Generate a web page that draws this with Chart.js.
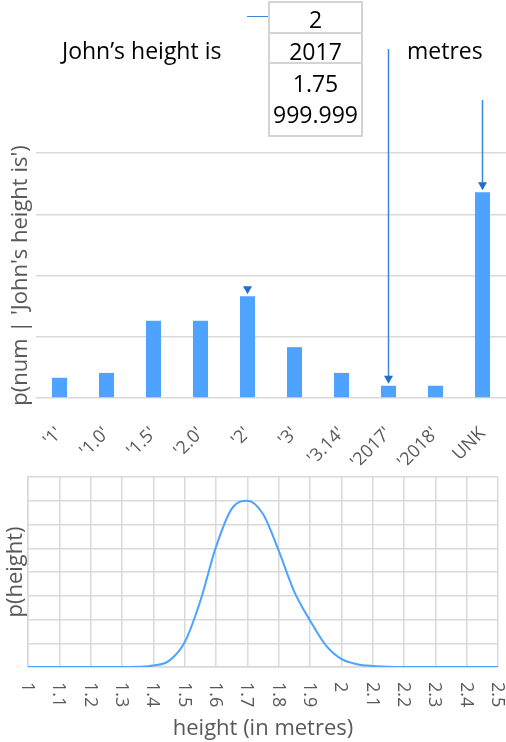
<!DOCTYPE html>
<html>
<head>
<meta charset="utf-8">
<script src="https://cdn.jsdelivr.net/npm/chart.js@4"></script>
<style>
    body { margin: 0; background: #fff; font-family: "Open Sans", sans-serif; }
    #wrap { position: relative; width: 506px; height: 742px; overflow: hidden; }
    .txt { position: absolute; color: #000; font-size: 23px; line-height: 23px; white-space: nowrap; }
    .cell { position: absolute; left: 268px; width: 95px; text-align: center; }
    .box { position: absolute; left: 268px; width: 95px; border: 2px solid #d4d4d4; box-sizing: border-box; }
    #c1 { position: absolute; left: 0; top: 0; width: 506px; height: 470px; }
    #c2 { position: absolute; left: 0; top: 470px; width: 506px; height: 272px; }
    .link { position: absolute; left: 247px; top: 16px; width: 21px; height: 0; border-top: 1.5px solid #3C87DB; }
</style>
</head>
<body>
<div id="wrap">
    <div class="box" style="top:1px; height:33px;"></div>
    <div class="box" style="top:32px; height:32px;"></div>
    <div class="box" style="top:62px; height:75px;"></div>
    <div class="link"></div>

    <div id="c1"><canvas id="numChart"></canvas></div>
    <div id="c2"><canvas id="heightChart"></canvas></div>

    <div class="txt" style="left:62px; top:39px;">John’s height is</div>
    <div class="txt cell" style="top:8px;">2</div>
    <div class="txt cell" style="top:40px;">2017</div>
    <div class="txt cell" style="top:72px;">1.75</div>
    <div class="txt cell" style="top:103px;">999.999</div>
    <div class="txt" style="left:407px; top:39px;">metres</div>
</div>

<script>
// top chart: p(num | 'John's height is')
const numCategories = ["'1'", "'1.0'", "'1.5'", "'2.0'", "'2'", "'3'", "'3.14'", "'2017'", "'2018'", "UNK"];
const numProbs = [0.033, 0.041, 0.126, 0.126, 0.166, 0.083, 0.041, 0.02, 0.02, 0.336];

// bottom chart: p(height)
const heights = [1.00, 1.05, 1.10, 1.15, 1.20, 1.25, 1.30, 1.35, 1.40, 1.45, 1.50, 1.55, 1.60, 1.65, 1.70,
                 1.75, 1.80, 1.85, 1.90, 1.95, 2.00, 2.05, 2.10, 2.15, 2.20, 2.25, 2.30, 2.35, 2.40, 2.45, 2.50];
const density = [0, 0, 0, 0, 0, 0, 0, 0.005, 0.03, 0.13, 0.52, 1.39, 2.53, 3.33, 3.5,
                 3.22, 2.45, 1.58, 0.98, 0.46, 0.17, 0.06, 0.02, 0.005, 0, 0, 0, 0, 0, 0, 0];
const heightTickLabels = ['1', '1.1', '1.2', '1.3', '1.4', '1.5', '1.6', '1.7', '1.8', '1.9', '2', '2.1', '2.2', '2.3', '2.4', '2.5'];

Chart.defaults.font.family = '"Open Sans", sans-serif';
Chart.defaults.color = '#595959';
Chart.defaults.animation = false;

const GRID = '#d9d9d9';
const BAR_BLUE = '#4DA3FF';
const LINE_BLUE = '#3C87DB';
const HEAD_BLUE = '#1E6FD0';

// arrows pointing at some bars
const arrowPlugin = {
    id: 'arrows',
    afterDatasetsDraw(chart) {
        const ctx = chart.ctx;
        const bars = chart.getDatasetMeta(0).data;
        const arrows = [
            { idx: numCategories.indexOf("'2017'"), fromY: 49 },
            { idx: numCategories.indexOf('UNK'), fromY: 100 },
            { idx: numCategories.indexOf("'2'"), fromY: null }
        ];
        ctx.save();
        arrows.forEach(a => {
            const bar = bars[a.idx];
            const tip = bar.y - 2;
            if (a.fromY !== null) {
                ctx.strokeStyle = LINE_BLUE;
                ctx.lineWidth = 1.5;
                ctx.beginPath();
                ctx.moveTo(bar.x, a.fromY);
                ctx.lineTo(bar.x, tip - 6);
                ctx.stroke();
            }
            ctx.fillStyle = HEAD_BLUE;
            ctx.beginPath();
            ctx.moveTo(bar.x - 4.5, tip - 8);
            ctx.lineTo(bar.x + 4.5, tip - 8);
            ctx.lineTo(bar.x, tip);
            ctx.closePath();
            ctx.fill();
        });
        ctx.restore();
    }
};

// x tick labels of the lower chart read top to bottom
const heightLabelPlugin = {
    id: 'heightLabels',
    afterDraw(chart) {
        const ctx = chart.ctx;
        const x = chart.scales.x;
        ctx.save();
        ctx.font = '18px "Open Sans", sans-serif';
        ctx.fillStyle = '#595959';
        ctx.textAlign = 'left';
        ctx.textBaseline = 'middle';
        heightTickLabels.forEach(lab => {
            const px = x.getPixelForValue(Number(lab));
            ctx.save();
            ctx.translate(px - 1, x.top + 15);
            ctx.rotate(Math.PI / 2);
            ctx.fillText(lab, 0, 0);
            ctx.restore();
        });
        ctx.restore();
    }
};

new Chart(document.getElementById('numChart'), {
    type: 'bar',
    data: {
        labels: numCategories,
        datasets: [{
            data: numProbs,
            backgroundColor: BAR_BLUE,
            barPercentage: 0.32,
            categoryPercentage: 1
        }]
    },
    options: {
        responsive: true,
        maintainAspectRatio: false,
        layout: { padding: { top: 153, right: 0, left: 0, bottom: 0 } },
        plugins: { legend: { display: false }, tooltip: { enabled: false } },
        scales: {
            x: {
                grid: { display: false },
                border: { display: false },
                ticks: { font: { size: 18 }, minRotation: 45, maxRotation: 45, padding: 17, autoSkip: false },
                afterFit(scale) {
                    scale.height = 72;
                    scale.paddingLeft = 0;
                    scale.paddingRight = 0;
                }
            },
            y: {
                min: 0,
                max: 0.4,
                ticks: { display: false, stepSize: 0.1 },
                grid: { color: GRID, lineWidth: 1.5, drawTicks: false },
                border: { display: false },
                title: {
                    display: true,
                    text: "p(num | 'John's height is')",
                    font: { size: 22 },
                    padding: { top: 8, bottom: 2 }
                },
                afterFit(scale) { scale.width = 36; }
            }
        }
    },
    plugins: [arrowPlugin]
});

new Chart(document.getElementById('heightChart'), {
    type: 'line',
    data: {
        datasets: [{
            data: heights.map((h, i) => ({ x: h, y: density[i] })),
            borderColor: BAR_BLUE,
            borderWidth: 2,
            pointRadius: 0,
            cubicInterpolationMode: 'monotone',
            fill: false
        }]
    },
    options: {
        responsive: true,
        maintainAspectRatio: false,
        layout: { padding: { top: 7, right: 8, left: 0, bottom: 0 } },
        plugins: { legend: { display: false }, tooltip: { enabled: false } },
        scales: {
            x: {
                type: 'linear',
                min: 1,
                max: 2.5,
                ticks: { display: false, stepSize: 0.1 },
                grid: { color: GRID, lineWidth: 1.5, drawTicks: false },
                border: { color: GRID, width: 1.5 },
                title: {
                    display: true,
                    text: 'height (in metres)',
                    font: { size: 22 },
                    padding: { top: 0, bottom: 0 }
                },
                afterFit(scale) { scale.height = 75; }
            },
            y: {
                min: 0,
                max: 4,
                ticks: { display: false, stepSize: 0.5 },
                grid: { color: GRID, lineWidth: 1.5, drawTicks: false },
                border: { color: GRID, width: 1.5 },
                title: {
                    display: true,
                    text: 'p(height)',
                    font: { size: 22 },
                    padding: { top: 3, bottom: 0 }
                },
                afterFit(scale) { scale.width = 28; }
            }
        }
    },
    plugins: [heightLabelPlugin]
});
</script>
</body>
</html>
